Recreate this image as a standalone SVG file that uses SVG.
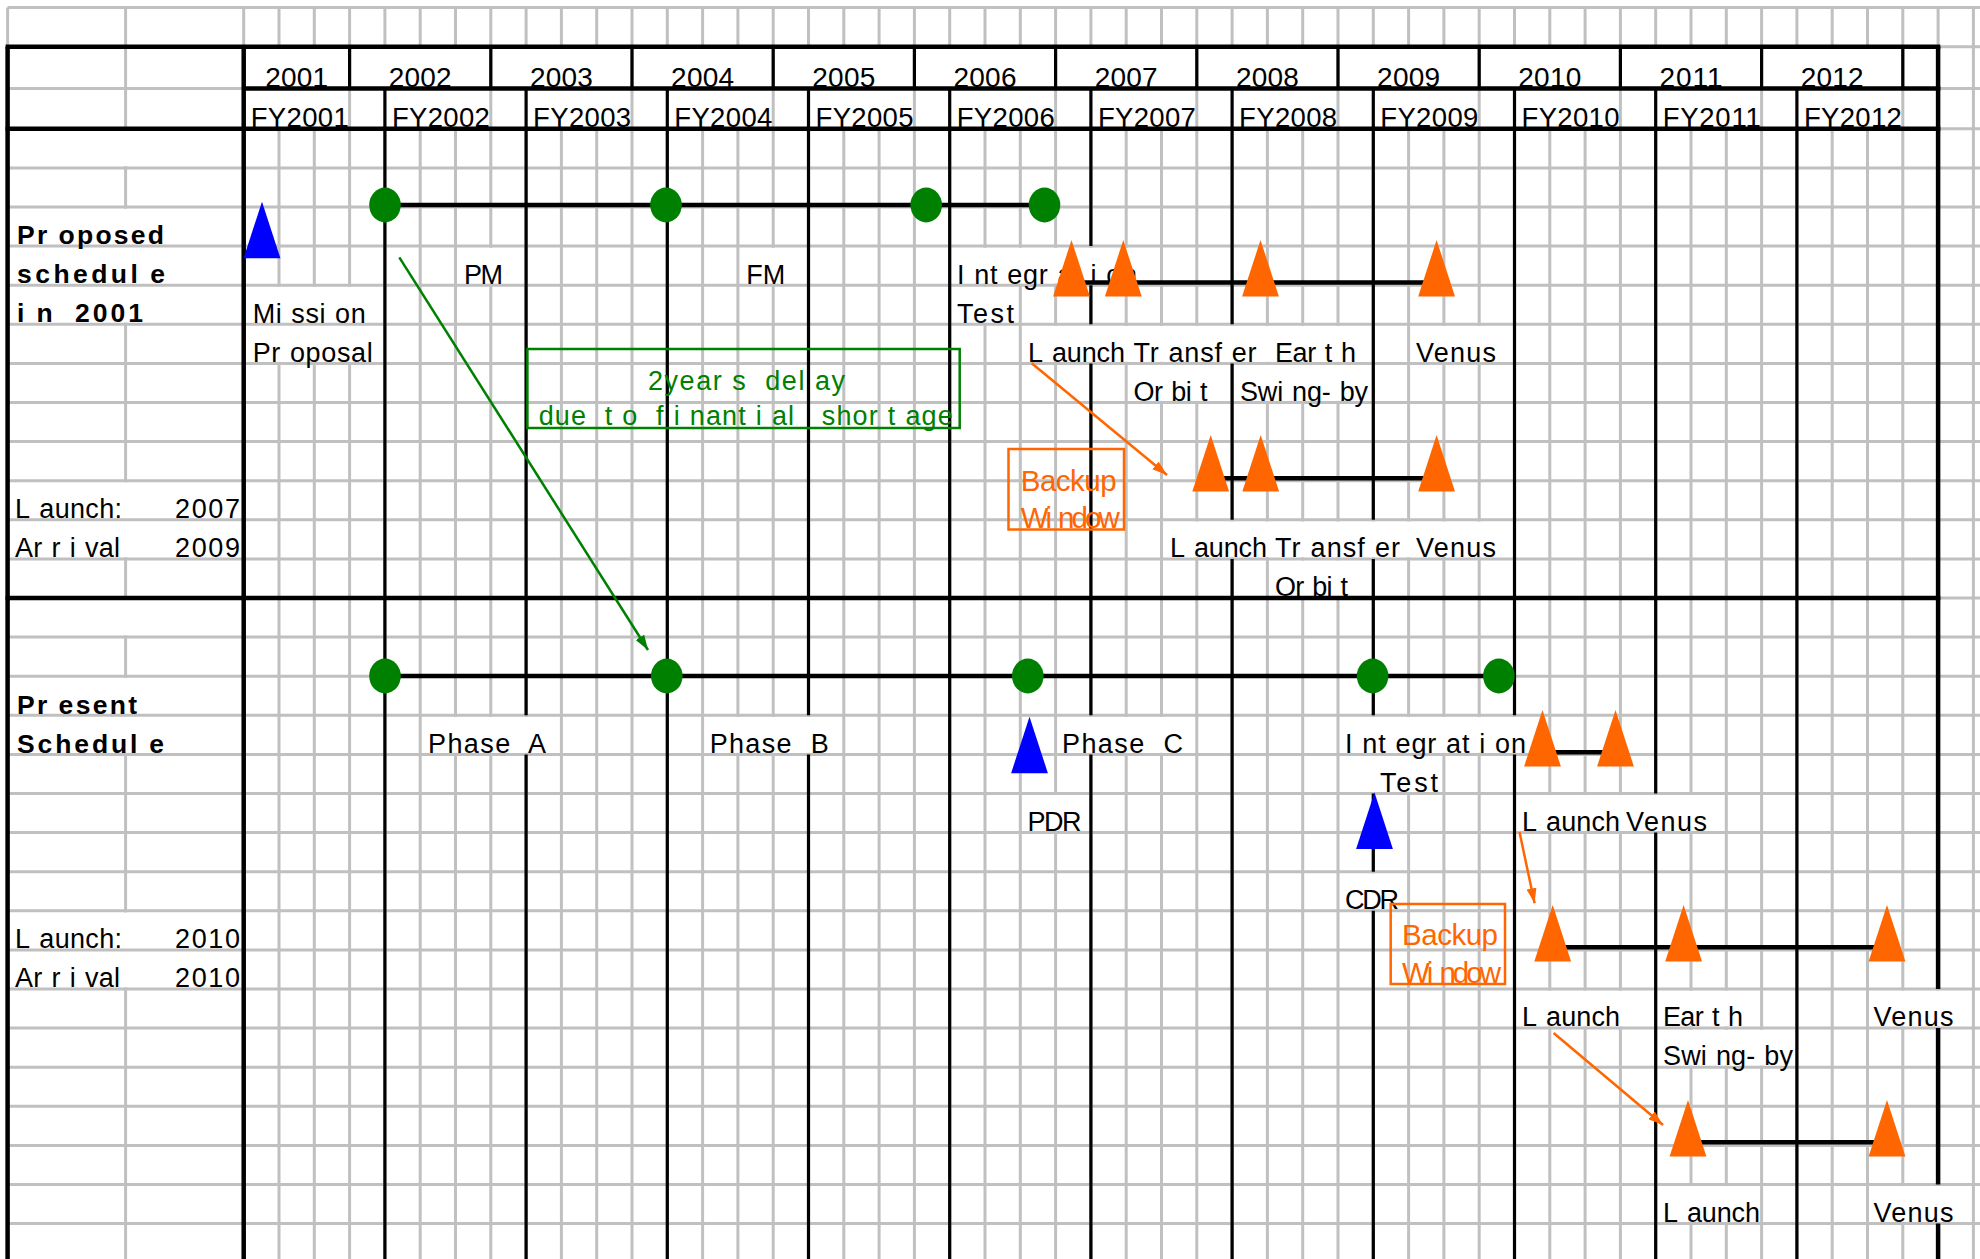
<svg xmlns="http://www.w3.org/2000/svg" width="1980" height="1259" viewBox="0 0 1980 1259">
<style>
.g{stroke:#C0C0C0;stroke-width:3;fill:none}
.w{fill:#fff}
.b{stroke:#000;stroke-width:3.2;fill:none}
.bt{stroke:#000;stroke-width:4.5;fill:none}
.ln{stroke:#000;stroke-width:4.5;fill:none}
.t{font-family:"Liberation Sans",Arial,Helvetica,sans-serif;font-size:27px;fill:#000}
.tb{font-weight:bold;font-size:26.5px}
.hy{font-size:28px}
.fy{font-size:27.5px}
.gt{fill:#008000}
.ot{fill:#FF6600;font-size:29.5px}
.o{fill:#FF6600}
.bl{fill:#0000FF}
.dot{fill:#008000}
.gbox{fill:none;stroke:#008000;stroke-width:2.5}
.obox{fill:none;stroke:#FF6600;stroke-width:2.5}
.garr{stroke:#008000;stroke-width:2.5;fill:none}
.oarr{stroke:#FF6600;stroke-width:2.5;fill:none}
</style>
<defs>
<path id="tri" d="M0 0L18.4 56.5L-18.4 56.5Z"/>
<marker id="ag" markerUnits="userSpaceOnUse" markerWidth="16" markerHeight="10" refX="15" refY="5" orient="auto"><path d="M0 0L15 5L0 10Z" fill="#008000"/></marker>
<marker id="ao" markerUnits="userSpaceOnUse" markerWidth="16" markerHeight="10" refX="15" refY="5" orient="auto"><path d="M0 0L15 5L0 10Z" fill="#FF6600"/></marker>
</defs>
<rect x="0" y="0" width="1980" height="1259" fill="#fff"/>
<g id="grid">
<path class="g" d="M7.6 7.6V46.7M125.6 7.6V1259M243.7 7.6V1259M279 7.6V1259M314.3 7.6V1259M349.6 7.6V1259M384.9 7.6V1259M420.2 7.6V1259M455.5 7.6V1259M490.8 7.6V1259M526.1 7.6V1259M561.4 7.6V1259M596.7 7.6V1259M632 7.6V1259M667.3 7.6V1259M702.6 7.6V1259M737.9 7.6V1259M773.2 7.6V1259M808.5 7.6V1259M843.8 7.6V1259M879.1 7.6V1259M914.4 7.6V1259M949.7 7.6V1259M985 7.6V1259M1020.3 7.6V1259M1055.6 7.6V1259M1090.9 7.6V1259M1126.2 7.6V1259M1161.5 7.6V1259M1196.8 7.6V1259M1232.1 7.6V1259M1267.4 7.6V1259M1302.7 7.6V1259M1338 7.6V1259M1373.3 7.6V1259M1408.6 7.6V1259M1443.9 7.6V1259M1479.2 7.6V1259M1514.5 7.6V1259M1549.8 7.6V1259M1585.1 7.6V1259M1620.4 7.6V1259M1655.7 7.6V1259M1691 7.6V1259M1726.3 7.6V1259M1761.6 7.6V1259M1796.9 7.6V1259M1832.2 7.6V1259M1867.5 7.6V1259M1902.8 7.6V1259M1938.1 7.6V1259M1973.4 7.6V1259"/>
<rect class="w" x="246" y="48.9" width="1689.8" height="77.7"/>
<path class="g" d="M349.6 46.7V128.8M490.8 46.7V128.8M632 46.7V128.8M773.2 46.7V128.8M914.4 46.7V128.8M1055.6 46.7V128.8M1196.8 46.7V128.8M1338 46.7V128.8M1479.2 46.7V128.8M1620.4 46.7V128.8M1761.6 46.7V128.8M1902.8 46.7V128.8"/>
<g id="text-backgrounds">
<rect class="w" x="118" y="130.4" width="15" height="35.9"/>
<rect class="w" x="118" y="208.6" width="15" height="114.1"/>
<rect class="w" x="118" y="482.3" width="15" height="75"/>
<rect class="w" x="118" y="599.6" width="15" height="35.9"/>
<rect class="w" x="118" y="677.8" width="15" height="75"/>
<rect class="w" x="118" y="912.4" width="15" height="75"/>
<rect class="w" x="460" y="247.7" width="48" height="35.9"/>
<rect class="w" x="743" y="247.7" width="47" height="35.9"/>
<rect class="w" x="953" y="247.7" width="187" height="35.9"/>
<rect class="w" x="247" y="286.8" width="134" height="75"/>
<rect class="w" x="953" y="286.8" width="65" height="35.9"/>
<rect class="w" x="1024" y="325.9" width="336" height="35.9"/>
<rect class="w" x="1412" y="325.9" width="88" height="35.9"/>
<rect class="w" x="1130" y="365" width="80" height="35.9"/>
<rect class="w" x="1237" y="365" width="133" height="35.9"/>
<rect class="w" x="1166" y="521.4" width="334" height="35.9"/>
<rect class="w" x="1271" y="560.5" width="81" height="35.9"/>
<rect class="w" x="424" y="716.9" width="125" height="35.9"/>
<rect class="w" x="706" y="716.9" width="125" height="35.9"/>
<rect class="w" x="1059" y="716.9" width="127" height="35.9"/>
<rect class="w" x="1342" y="716.9" width="186" height="35.9"/>
<rect class="w" x="1371" y="756" width="70" height="35.9"/>
<rect class="w" x="1024" y="795.1" width="61" height="35.9"/>
<rect class="w" x="1519" y="795.1" width="191" height="35.9"/>
<rect class="w" x="1342" y="873.3" width="58" height="35.9"/>
<rect class="w" x="1519" y="990.6" width="105" height="35.9"/>
<rect class="w" x="1660" y="990.6" width="86" height="35.9"/>
<rect class="w" x="1870" y="990.6" width="87" height="35.9"/>
<rect class="w" x="1660" y="1029.7" width="134.5" height="35.9"/>
<rect class="w" x="1660" y="1186.1" width="99.5" height="35.9"/>
<rect class="w" x="1870" y="1186.1" width="87" height="35.9"/>
</g>
<path class="g" d="M7.6 7.6H1980M7.6 46.7H1980M7.6 88.4H1980M7.6 128.8H1980M7.6 167.9H1980M7.6 207H1980M7.6 246.1H1980M7.6 285.2H1980M7.6 324.3H1980M7.6 363.4H1980M7.6 402.5H1980M7.6 441.6H1980M7.6 480.7H1980M7.6 519.8H1980M7.6 558.9H1980M7.6 598H1980M7.6 637.1H1980M7.6 676.2H1980M7.6 715.3H1980M7.6 754.4H1980M7.6 793.5H1980M7.6 832.6H1980M7.6 871.7H1980M7.6 910.8H1980M7.6 949.9H1980M7.6 989H1980M7.6 1028.1H1980M7.6 1067.2H1980M7.6 1106.3H1980M7.6 1145.4H1980M7.6 1184.5H1980M7.6 1223.6H1980"/>
<path class="b" d="M384.9 88.4V1259M526.1 88.4V715.3M526.1 754.4V1259M667.3 88.4V1259M808.5 88.4V715.3M808.5 754.4V1259M949.7 88.4V1259M1090.9 88.4V246.1M1090.9 285.2V324.3M1090.9 363.4V715.3M1090.9 754.4V1259M1232.1 88.4V324.3M1232.1 363.4V519.8M1232.1 558.9V1259M1373.3 88.4V519.8M1373.3 558.9V715.3M1373.3 793.5V871.7M1373.3 910.8V1259M1514.5 88.4V715.3M1514.5 754.4V1259M1655.7 88.4V793.5M1655.7 832.6V1259M1796.9 88.4V1259"/>
<path class="b" stroke-width="4" d="M349.6 46.7V88.4M490.8 46.7V88.4M632 46.7V88.4M773.2 46.7V88.4M914.4 46.7V88.4M1055.6 46.7V88.4M1196.8 46.7V88.4M1338 46.7V88.4M1479.2 46.7V88.4M1620.4 46.7V88.4M1761.6 46.7V88.4M1902.8 46.7V88.4"/>
<path class="bt" stroke-width="5" d="M243.7 46.7V1259"/>
<path class="bt" stroke-width="4" d="M7.6 46.7V1259"/>
<path class="bt" d="M1938.1 46.7V989M1938.1 1028.1V1184.5M1938.1 1223.6V1259"/>
<path class="bt" d="M5.6 46.7H1940.3M5.6 128.8H1940.3M5.6 598H1940.3"/>
<path class="bt" stroke-width="3.6" d="M243.7 88.4H1940.3"/>
</g>
<g id="header" class="t">
<g class="hy" text-anchor="middle">
<text x="296.7" y="87" textLength="63">2001</text>
<text x="420.2" y="87" textLength="63">2002</text>
<text x="561.4" y="87" textLength="63">2003</text>
<text x="702.6" y="87" textLength="63">2004</text>
<text x="843.8" y="87" textLength="63">2005</text>
<text x="985" y="87" textLength="63">2006</text>
<text x="1126.2" y="87" textLength="63">2007</text>
<text x="1267.4" y="87" textLength="63">2008</text>
<text x="1408.6" y="87" textLength="63">2009</text>
<text x="1549.8" y="87" textLength="63">2010</text>
<text x="1691" y="87" textLength="63">2011</text>
<text x="1832.2" y="87" textLength="63">2012</text>
</g>
<g class="fy">
<text x="250.7" y="127" textLength="98">FY2001</text>
<text x="391.9" y="127" textLength="98">FY2002</text>
<text x="533.1" y="127" textLength="98">FY2003</text>
<text x="674.3" y="127" textLength="98">FY2004</text>
<text x="815.5" y="127" textLength="98">FY2005</text>
<text x="956.7" y="127" textLength="98">FY2006</text>
<text x="1097.9" y="127" textLength="98">FY2007</text>
<text x="1239.1" y="127" textLength="98">FY2008</text>
<text x="1380.3" y="127" textLength="98">FY2009</text>
<text x="1521.5" y="127" textLength="98">FY2010</text>
<text x="1662.7" y="127" textLength="98">FY2011</text>
<text x="1803.9" y="127" textLength="98">FY2012</text>
</g>
</g>
<g id="section-labels" class="t">
<text class="t tb" x="17" y="244" dx="0 0 9" textLength="147">Proposed</text>
<text class="t tb" x="17" y="283" dx="0 0 0 0 0 0 0 9" textLength="148">schedule</text>
<text class="t tb" x="17" y="322" dx="0 9 0 9" textLength="126">in 2001</text>
<text x="15" y="517.5" dx="0 9" textLength="107">Launch:</text>
<text x="240" y="517.5" text-anchor="end" textLength="65">2007</text>
<text x="15" y="556.5" dx="0 0 9 9 9" textLength="105">Arrival</text>
<text x="240" y="556.5" text-anchor="end" textLength="65">2009</text>
<text class="t tb" x="17" y="713.5" dx="0 0 9" textLength="120">Present</text>
<text class="t tb" x="17" y="752.5" dx="0 0 0 0 0 0 0 9" textLength="147">Schedule</text>
<text x="15" y="948" dx="0 9" textLength="107">Launch:</text>
<text x="240" y="948" text-anchor="end" textLength="65">2010</text>
<text x="15" y="987" dx="0 0 9 9 9" textLength="105">Arrival</text>
<text x="240" y="987" text-anchor="end" textLength="65">2010</text>
</g>
<g id="phase-labels" class="t">
<text x="252.7" y="322.5" dx="0 0 9 0 0 9" textLength="113">Mission</text>
<text x="252.7" y="361.5" dx="0 0 9" textLength="120">Proposal</text>
<text x="464" y="284" textLength="39">PM</text>
<text x="746.3" y="284" textLength="39">FM</text>
<text x="957" y="284" dx="0 9 0 9 0 0 9 0 9 9" textLength="180">Integration</text>
<text x="957" y="322.5" textLength="57">Test</text>
<text x="428" y="752.5" dx="0 0 0 0 0 0 9" textLength="118">Phase A</text>
<text x="709.7" y="752.5" dx="0 0 0 0 0 0 9" textLength="119">Phase B</text>
<text x="1062" y="752.5" dx="0 0 0 0 0 0 9" textLength="121">Phase C</text>
<text x="1345" y="752.5" dx="0 9 0 9 0 0 9 0 9 9" textLength="181">Integration</text>
<text x="1380" y="791.5" textLength="58">Test</text>
<text x="1027.4" y="831" textLength="54">PDR</text>
<text x="1345" y="909" textLength="54">CDR</text>
</g>
<g id="event-labels" class="t">
<text x="1028" y="361.5" dx="0 9" textLength="97">Launch</text>
<text x="1133.5" y="361.5" dx="0 0 9 0 0 0 9" textLength="123">Transfer</text>
<text x="1275" y="361.5" dx="0 0 0 9 9" textLength="81">Earth</text>
<text x="1416" y="361.5" textLength="80">Venus</text>
<text x="1133.5" y="400.5" dx="0 0 9 0 9" textLength="74">Orbit</text>
<text x="1240" y="400.5" dx="0 0 0 9 0 0 9" textLength="128">Swing-by</text>
<text x="1170" y="556.5" dx="0 9" textLength="97">Launch</text>
<text x="1275" y="556.5" dx="0 0 9 0 0 0 9" textLength="125">Transfer</text>
<text x="1416" y="556.5" textLength="80">Venus</text>
<text x="1275" y="595.5" dx="0 0 9 0 9" textLength="73">Orbit</text>
<text x="1522" y="831" dx="0 9" textLength="98">Launch</text>
<text x="1626" y="831" textLength="81">Venus</text>
<text x="1522" y="1026" dx="0 9" textLength="98">Launch</text>
<text x="1663" y="1026" dx="0 0 0 9 9" textLength="80">Earth</text>
<text x="1873.5" y="1026" textLength="80">Venus</text>
<text x="1663" y="1065" dx="0 0 0 9 0 0 9" textLength="130">Swing-by</text>
<text x="1663" y="1221.5" dx="0 9" textLength="97">Launch</text>
<text x="1873.5" y="1221.5" textLength="80">Venus</text>
</g>
<g id="connectors">
<path class="ln" d="M385 205H1044M1071.5 282.5H1436.6M1210.7 478.3H1436.6M385 676H1499M1542.5 752.3H1615.5M1552.7 947.3H1887M1688 1142.3H1887"/>
<path class="garr" d="M399.3 257.3L648 650" marker-end="url(#ag)"/>
<path class="oarr" d="M1031.7 363.3L1167 475" marker-end="url(#ao)"/>
<path class="oarr" d="M1519.5 832L1534.6 903.3" marker-end="url(#ao)"/>
<path class="oarr" d="M1553.6 1033L1663 1125" marker-end="url(#ao)"/>
</g>
<g id="delay-note">
<rect class="gbox" x="527.4" y="349" width="432.3" height="79"/>
<text class="t gt" x="648" y="390" dx="0 0 0 0 0 9 0 9 0 0 9" textLength="197">2years delay</text>
<text class="t gt" x="538.7" y="425" dx="0 0 0 0 9 9 0 9 9 9 0 0 0 9 9 0 9 9 0 0 0 9 9" textLength="414">due to finantial shortage</text>
</g>
<g id="backup-window-1">
<rect class="obox" x="1008.5" y="449" width="115.5" height="80.5"/>
<text class="t ot" x="1020.7" y="490.7" textLength="96">Backup</text>
<text class="t ot" x="1020.7" y="528" dx="0 0 9" textLength="99">Window</text>
</g>
<g id="backup-window-2">
<rect class="obox" x="1390.7" y="904" width="114.3" height="80"/>
<text class="t ot" x="1402" y="945" textLength="96">Backup</text>
<text class="t ot" x="1402" y="983" dx="0 0 9" textLength="99">Window</text>
</g>
<g id="milestones-proposed">
<use href="#tri" class="bl" x="262" y="201.7"/>
<ellipse class="dot" cx="385" cy="205" rx="15.8" ry="17.4"/>
<ellipse class="dot" cx="666" cy="205" rx="15.8" ry="17.4"/>
<ellipse class="dot" cx="926.2" cy="205" rx="15.8" ry="17.4"/>
<ellipse class="dot" cx="1044.5" cy="205" rx="15.8" ry="17.4"/>
</g>
<g id="events-proposed">
<use href="#tri" class="o" x="1071.5" y="240"/>
<use href="#tri" class="o" x="1123.3" y="240"/>
<use href="#tri" class="o" x="1260.5" y="240"/>
<use href="#tri" class="o" x="1436.6" y="240"/>
</g>
<g id="events-proposed-backup">
<use href="#tri" class="o" x="1210.7" y="435"/>
<use href="#tri" class="o" x="1260.7" y="435"/>
<use href="#tri" class="o" x="1436.6" y="435"/>
</g>
<g id="milestones-present">
<ellipse class="dot" cx="385" cy="676" rx="15.8" ry="17.4"/>
<ellipse class="dot" cx="666.8" cy="676" rx="15.8" ry="17.4"/>
<ellipse class="dot" cx="1027.8" cy="676" rx="15.8" ry="17.4"/>
<ellipse class="dot" cx="1372.6" cy="676" rx="15.8" ry="17.4"/>
<ellipse class="dot" cx="1498.9" cy="676" rx="15.8" ry="17.4"/>
<use href="#tri" class="bl" x="1029.5" y="716.7"/>
<use href="#tri" class="bl" x="1374.5" y="792.5"/>
</g>
<g id="events-present">
<use href="#tri" class="o" x="1542.5" y="710"/>
<use href="#tri" class="o" x="1615.5" y="710"/>
</g>
<g id="events-present-backup-1">
<use href="#tri" class="o" x="1552.7" y="905"/>
<use href="#tri" class="o" x="1683.6" y="905"/>
<use href="#tri" class="o" x="1887" y="905"/>
</g>
<g id="events-present-backup-2">
<use href="#tri" class="o" x="1688" y="1100"/>
<use href="#tri" class="o" x="1887" y="1100"/>
</g>
</svg>
